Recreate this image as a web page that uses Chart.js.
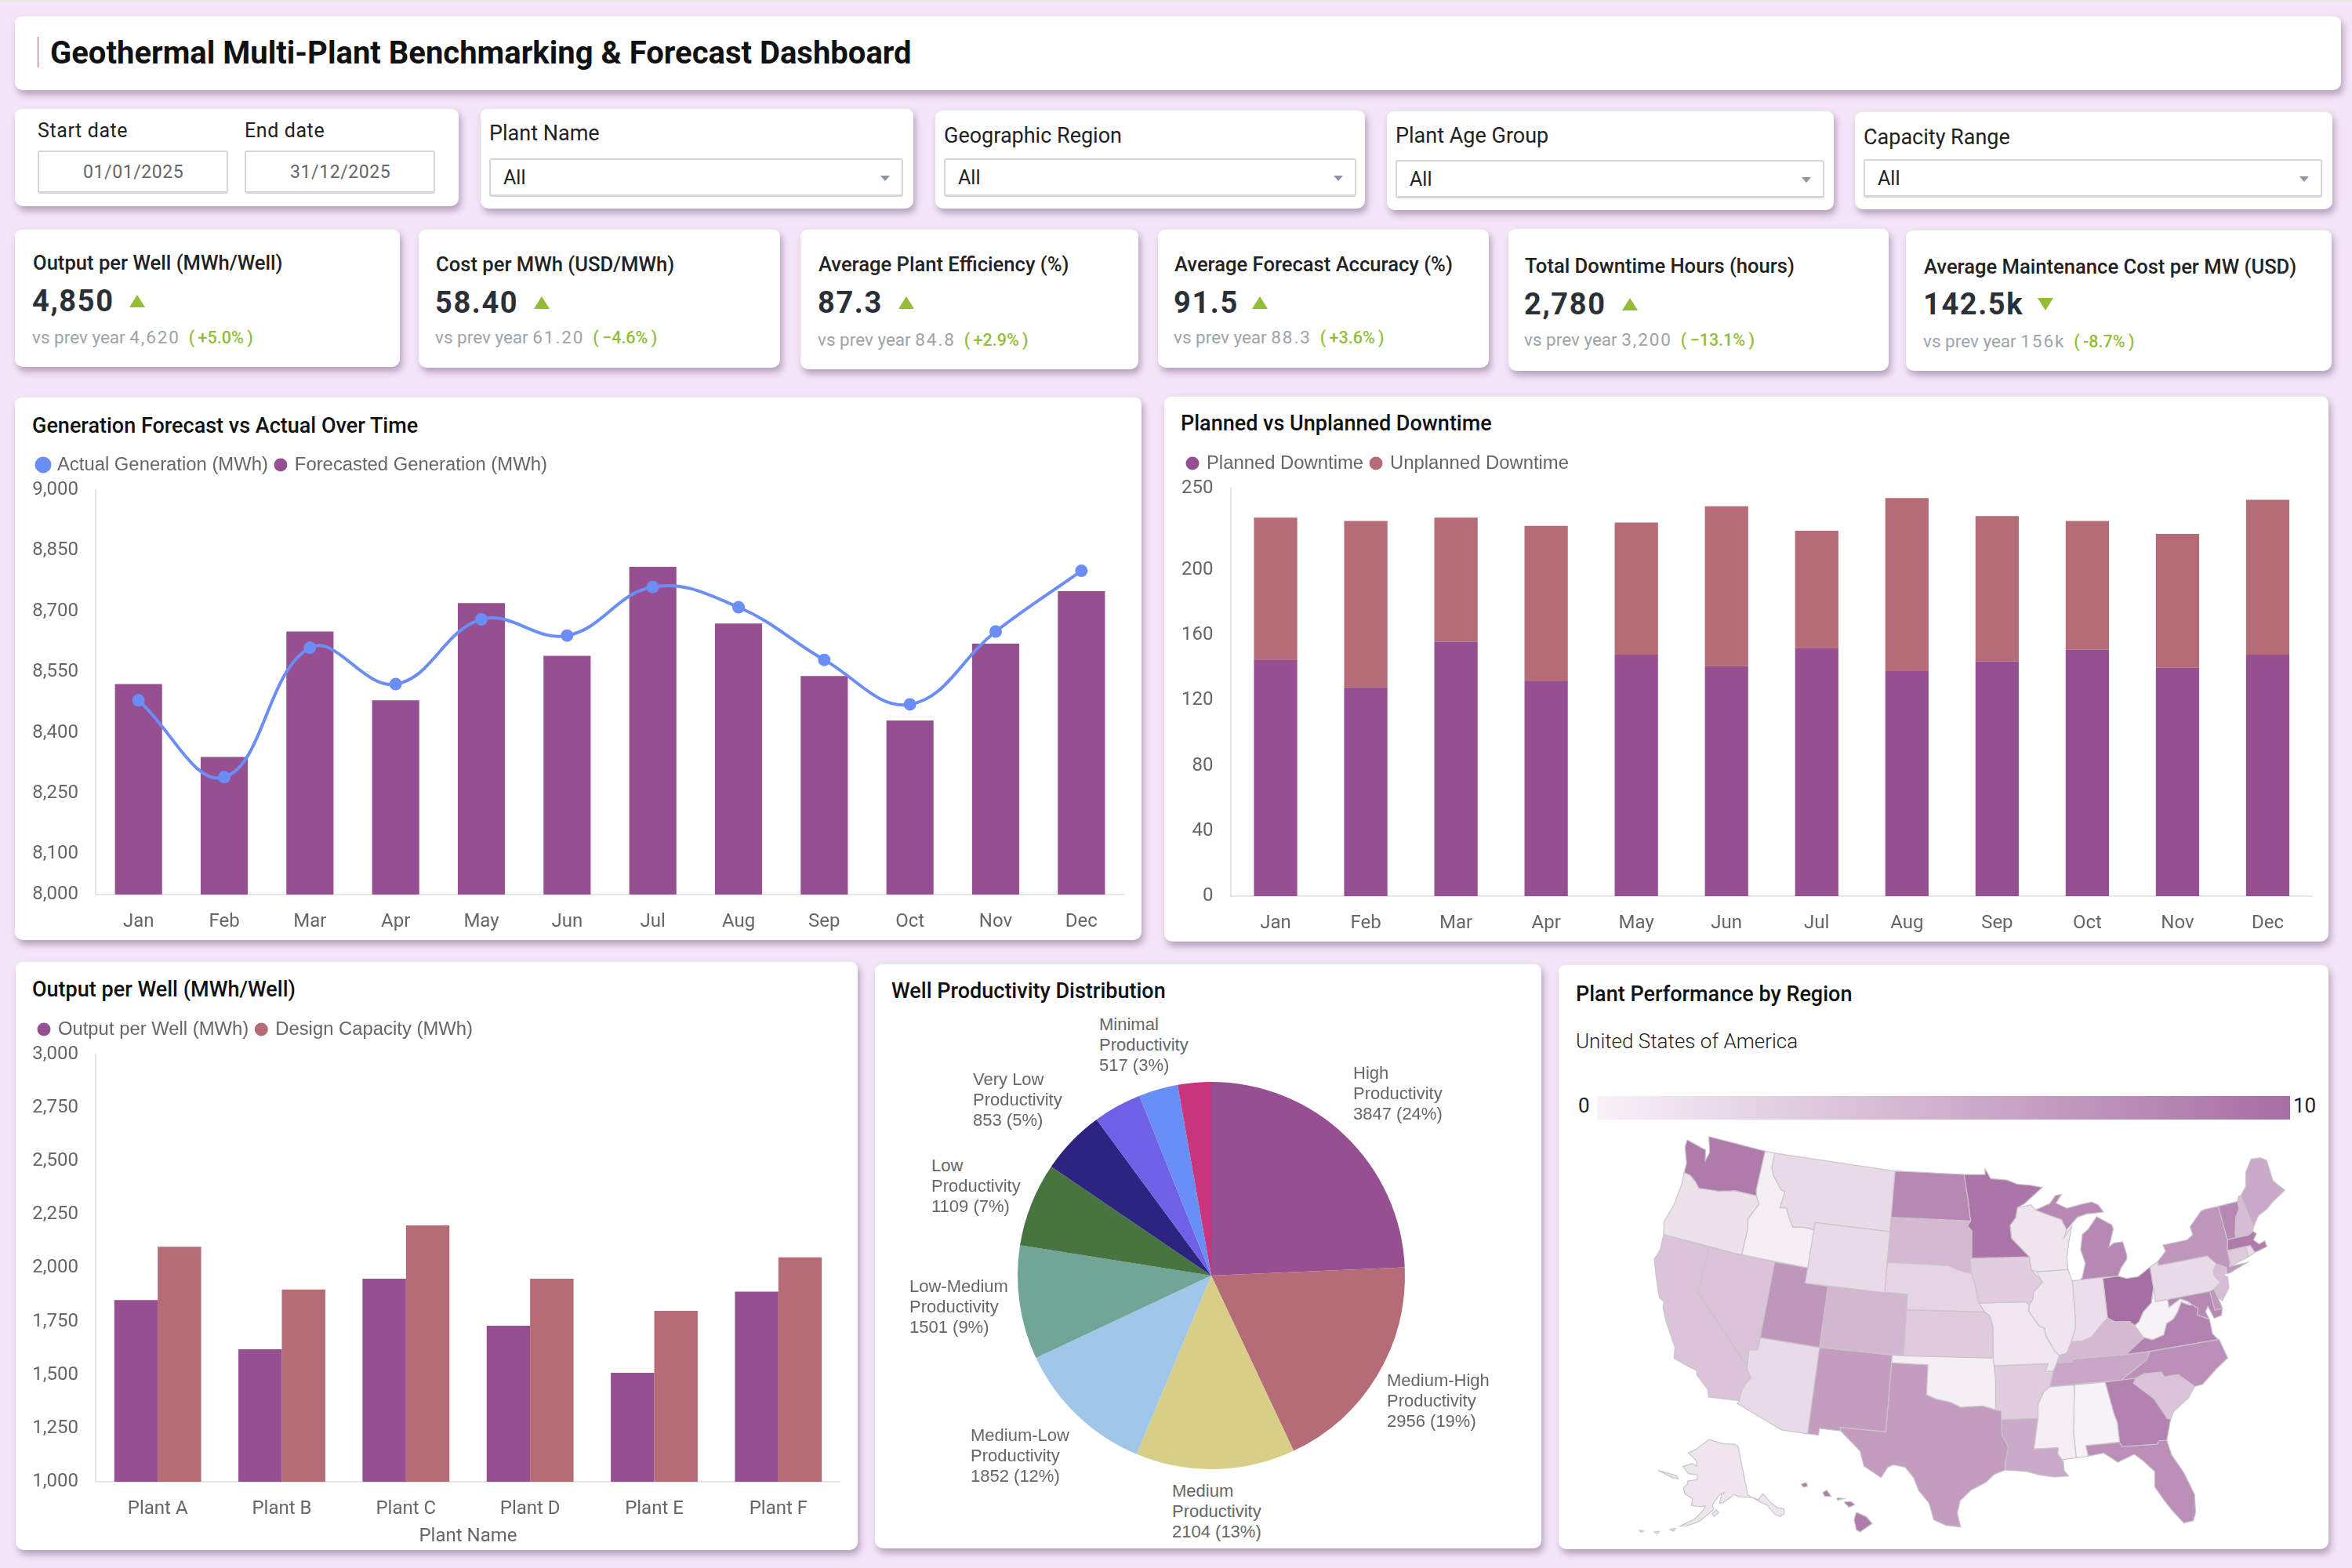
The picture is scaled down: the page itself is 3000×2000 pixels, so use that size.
<!DOCTYPE html>
<html>
<head>
<meta charset="utf-8">
<title>Geothermal Multi-Plant Benchmarking & Forecast Dashboard</title>
<script src="https://cdn.jsdelivr.net/npm/chart.js@4/dist/chart.umd.js"></script>
<style>
    body { margin: 0; width: 3000px; height: 2000px; background: #f5e5f8; overflow: hidden; font-family: Roboto, sans-serif; position: relative; border-top: 2px solid #e8e8e8; box-sizing: border-box; }
    .card { position: absolute; background: #fff; border-radius: 10px; box-sizing: border-box; border-top: 2px solid #e9e9e9; box-shadow: 3px 6px 9px rgba(95, 70, 110, .42); }
    .t { position: absolute; white-space: nowrap; transform: translateY(-50%); line-height: 1.2; }
    .input { position: absolute; box-sizing: border-box; background: #fff; border: 2px solid #d6d6d6; border-bottom-width: 3px; border-radius: 3px; }
    .tri { position: absolute; width: 0; height: 0; border-left: 5px solid transparent; border-right: 5px solid transparent; }
    canvas { position: absolute; }
</style>
</head>
<body>
<script>
/* ---------- data ---------- */
const months = ['Jan','Feb','Mar','Apr','May','Jun','Jul','Aug','Sep','Oct','Nov','Dec'];
const actualGen   = [8480,8290,8610,8520,8680,8640,8760,8710,8580,8470,8650,8800];
const forecastGen = [8520,8340,8650,8480,8720,8590,8810,8670,8540,8430,8620,8750];
const genTicks = [8000,8100,8250,8400,8550,8700,8850,9000];

const plannedDown   = [145,128,156,132,148,141,152,138,144,151,140,148];
const unplannedDown = [87,102,76,95,81,98,72,106,89,79,82,95];
const downTicks = [0,40,80,120,160,200,250];

const plants = ['Plant A','Plant B','Plant C','Plant D','Plant E','Plant F'];
const outputPerWell  = [1850,1620,1950,1730,1510,1890];
const designCapacity = [2100,1900,2200,1950,1800,2050];
const outputTicks = [1000,1250,1500,1750,2000,2250,2500,2750,3000];

const pieNames  = ['High','Medium-High','Medium','Medium-Low','Low-Medium','Low','Very Low','','Minimal',''];
const pieValues = [3847,2956,2104,1852,1501,1109,853,640,517,440];
const piePct    = [24,19,13,12,9,7,5,4,3,3];

const kpiTitles = ['Output per Well (MWh/Well)','Cost per MWh (USD/MWh)','Average Plant Efficiency (%)','Average Forecast Accuracy (%)','Total Downtime Hours (hours)','Average Maintenance Cost per MW (USD)'];
const kpiValues = ['4,850','58.40','87.3','91.5','2,780','142.5k'];
const kpiPrev   = ['4,620','61.20','84.8','88.3','3,200','156k'];
const kpiDelta  = ['+5.0%','−4.6%','+2.9%','+3.6%','−13.1%','-8.7%'];

// map: value per state (0-10) and outlines as lon,lat pairs
const regionValues = {
    WA:9, OR:1.3, CA:3.5, NV:3.5, ID:.3, MT:1.8, WY:1.8, UT:7, CO:4.5, AZ:1.8, NM:6.5, ND:8, SD:4.3, NE:2.3, KS:3, OK:.3, TX:6.5,
    MN:9.5, IA:2.8, MO:.9, AR:2.8, LA:5.5, WI:1, IL:1, IN:1.5, MI:8, OH:10, KY:4.3, TN:5.8, MS:.3, AL:0, GA:8.5, FL:7.5, SC:3.5, NC:7.5,
    VA:8.5, WV:0, PA:1.8, NY:7, VT:8, NH:4, ME:5.5, MA:9, CT:3, RI:1.5, NJ:4, DE:7, MD:8, AK:1, HI:9
};
const regionRings = {
    WA:[[-124.7,48.38,-123.1,48.15,-122.7,48.1,-122.45,47.4,-122.25,48,-122.76,49,-117.03,49,-117.04,46.42,-116.92,46,-118.98,46,-119.3,45.93,-120.5,45.7,-121.2,45.65,-122.3,45.55,-122.8,45.9,-123.4,46.2,-124.05,46.27,-124.1,46.9,-124.7,47.9]],
    OR:[[-124.05,46.27,-123.4,46.2,-122.8,45.9,-122.3,45.55,-121.2,45.65,-120.5,45.7,-119.3,45.93,-118.98,46,-116.92,46,-116.5,45.5,-117.2,44.4,-117.03,43.8,-117.03,42,-124.2,42,-124.5,42.8,-124.1,44,-123.95,45.5]],
    CA:[[-124.2,42,-120,42,-120,39,-114.63,35,-114.6,34.8,-114.14,34.3,-114.5,33.9,-114.7,33.4,-114.72,32.72,-117.12,32.53,-117.3,33,-118.4,33.75,-118.5,34.03,-119.2,34.15,-120.5,34.45,-120.65,35.15,-121.9,36.6,-122.5,37.5,-122.5,37.8,-123,38,-123.8,39.3,-124.35,40.3,-124.1,41]],
    NV:[[-120,42,-114.04,42,-114.04,36.2,-114.75,36.1,-114.63,35,-120,39]],
    ID:[[-117.03,49,-116.05,49,-116.05,48,-115.7,47.5,-114.7,46.7,-114.35,46.65,-114.5,45.55,-113.9,45.6,-113.45,44.95,-113,44.45,-112.3,44.55,-111.5,44.55,-111.05,44.48,-111.05,42,-117.03,42,-117.03,43.8,-117.2,44.4,-116.5,45.5,-116.92,46,-117.04,46.42]],
    MT:[[-116.05,49,-104.05,49,-104.05,45,-111.05,45,-111.05,44.48,-111.5,44.55,-112.3,44.55,-113,44.45,-113.45,44.95,-113.9,45.6,-114.5,45.55,-114.35,46.65,-114.7,46.7,-115.7,47.5,-116.05,48]],
    WY:[[-111.05,45,-104.05,45,-104.05,41,-111.05,41]],
    UT:[[-114.04,42,-111.05,42,-111.05,41,-109.05,41,-109.05,37,-114.04,37]],
    CO:[[-109.05,41,-102.05,41,-102.05,37,-109.05,37]],
    AZ:[[-114.75,36.1,-114.04,36.2,-114.04,37,-109.05,37,-109.05,31.33,-111.07,31.33,-114.81,32.5,-114.72,32.72,-114.7,33.4,-114.5,33.9,-114.14,34.3,-114.6,34.8,-114.63,35]],
    NM:[[-109.05,37,-103,37,-103.04,32,-106.62,32,-106.53,31.78,-108.2,31.78,-108.2,31.33,-109.05,31.33]],
    ND:[[-104.05,49,-97.23,49,-96.85,47.5,-96.56,45.94,-104.05,45.94]],
    SD:[[-104.05,45.94,-96.56,45.94,-96.85,45.6,-96.45,45.3,-96.45,43.5,-96.6,43.5,-96.45,42.49,-97.9,42.8,-98.5,43,-104.05,43]],
    NE:[[-104.05,43,-98.5,43,-97.9,42.8,-96.45,42.49,-96.1,41.7,-95.85,40.7,-95.31,40,-102.05,40,-102.05,41,-104.05,41]],
    KS:[[-102.05,40,-95.31,40,-94.9,39.8,-94.61,39.1,-94.62,37,-102.05,37]],
    OK:[[-103,37,-94.62,37,-94.43,35.4,-94.48,33.64,-95.5,33.9,-96.6,33.85,-97.2,33.8,-98.1,34.13,-99.2,34.3,-100,34.56,-100,36.5,-103,36.5]],
    TX:[[-106.62,32,-103.04,32,-103,36.5,-100,36.5,-100,34.56,-99.2,34.3,-98.1,34.13,-97.2,33.8,-96.6,33.85,-95.5,33.9,-94.48,33.64,-94.04,33.55,-94.04,32,-93.55,31.2,-93.8,30.2,-93.85,29.7,-94.7,29.4,-95.3,28.9,-96.4,28.4,-97.2,27.7,-97.4,26.9,-97.15,25.96,-98.2,26.05,-99.1,26.4,-99.5,27.5,-100.3,28.3,-100.7,29.1,-101.4,29.77,-102.3,29.88,-102.7,29.7,-103.15,28.98,-104.5,29.65,-104.9,30.6,-106.5,31.75]],
    MN:[[-97.23,49,-95.15,49,-95.15,49.38,-94.6,48.72,-93,48.6,-92,48.3,-90.8,48.2,-89.6,48,-91.4,47,-92.1,46.75,-92.3,46.1,-92.85,45.6,-92.75,44.75,-91.2,43.5,-96.45,43.5,-96.45,45.3,-96.85,45.6,-96.56,45.94,-96.85,47.5]],
    IA:[[-96.45,43.5,-91.2,43.5,-91.1,42.7,-90.15,41.8,-91,41.2,-91.1,40.7,-91.42,40.38,-91.73,40.6,-95.77,40.58,-96.1,41.7,-96.45,42.49,-96.6,43.5]],
    MO:[[-95.77,40.58,-91.73,40.6,-91.42,40.38,-91.5,40,-90.7,39,-90.2,38.8,-90.2,38.4,-89.5,37.3,-89.13,36.98,-89.4,36.5,-89.7,36,-90.37,36,-90.1,36.5,-94.62,36.5,-94.62,37,-94.61,39.1,-94.9,39.8,-95.31,40]],
    AR:[[-94.62,36.5,-90.1,36.5,-90.37,36,-89.7,36,-90.1,35,-90.6,34.7,-91.1,33.9,-91.17,33,-94.04,33,-94.04,33.55,-94.48,33.64,-94.43,35.4]],
    LA:[[-94.04,33,-91.17,33,-91.6,31,-89.73,31,-89.8,30.6,-89.5,30.2,-89.4,30.05,-89.4,29.5,-89.1,29.1,-90.2,29.1,-91.3,29.3,-92.2,29.55,-93.85,29.7,-93.8,30.2,-93.55,31.2,-94.04,32]],
    MS:[[-90.1,35,-88.2,35,-88.1,34.9,-88.47,31.9,-88.4,30.25,-89.5,30.2,-89.8,30.6,-89.73,31,-91.6,31,-91.17,33,-91.1,33.9,-90.6,34.7]],
    AL:[[-88.2,35,-85.6,35,-85.18,32.87,-85,32.3,-85,31,-87.6,31,-87.5,30.3,-88.4,30.25,-88.47,31.9,-88.1,34.9]],
    TN:[[-90.1,35,-89.7,36,-89.4,36.5,-88.05,36.5,-88.07,36.68,-83.68,36.6,-81.68,36.59,-82,36.1,-84.3,35]],
    KY:[[-89.4,36.5,-89.13,36.98,-88.5,37.1,-88.05,37.8,-87.1,37.8,-86.3,38,-85.4,38.7,-84.8,39.1,-84.2,38.8,-83,38.7,-82.6,38.4,-82,37.5,-81.97,37.54,-83.68,36.6,-88.07,36.68,-88.05,36.5]],
    IL:[[-90.65,42.5,-87.8,42.5,-87.5,41.7,-87.53,39.3,-87.6,38.7,-88.05,37.8,-88.5,37.1,-89.13,36.98,-89.5,37.3,-90.2,38.4,-90.2,38.8,-90.7,39,-91.5,40,-91.42,40.38,-91.1,40.7,-91,41.2,-90.15,41.8]],
    IN:[[-87.53,41.75,-86.8,41.76,-84.8,41.76,-84.8,39.1,-85.4,38.7,-86.3,38,-87.1,37.8,-88.05,37.8,-87.6,38.7,-87.53,39.3]],
    OH:[[-84.8,41.7,-83.45,41.72,-82.7,41.5,-81.7,41.5,-80.52,42,-80.52,40.64,-80.9,39.7,-81.7,39.2,-82.2,38.6,-82.6,38.4,-83,38.7,-84.2,38.8,-84.8,39.1]],
    MI:[[-86.8,41.76,-84.8,41.76,-83.45,41.72,-83.1,42.2,-82.5,42.7,-82.4,43,-82.6,43.9,-83.4,43.9,-83.9,43.7,-83.3,44.8,-83.4,45.1,-84.7,45.75,-85,45.5,-85.6,45,-86.2,44.7,-86.5,43.7,-86.2,42.8,-86.6,41.9],
        [-90.4,46.55,-89,46.9,-88.4,47.4,-87.8,47.45,-88.4,46.9,-87.4,46.5,-86.2,46.65,-85,46.75,-84.4,46.5,-84,46,-84.7,46,-85.6,46,-86.5,45.85,-87.6,45.1,-88,45.8,-89,46.1]],
    WI:[[-92.1,46.75,-90.8,46.9,-90.4,46.55,-89,46.1,-88,45.8,-87.6,45.1,-87.9,44.6,-87.1,45.3,-87.5,44.3,-87.8,43.3,-87.8,42.5,-90.65,42.5,-91.1,42.7,-91.2,43.5,-92.75,44.75,-92.85,45.6,-92.3,46.1]],
    GA:[[-85.6,35,-83.1,35,-83.35,34.7,-81.9,33.5,-81.1,32.1,-80.85,32.03,-81.4,30.7,-82,30.75,-82.2,30.55,-84.86,30.7,-85,31,-85,32.3,-85.18,32.87]],
    FL:[[-87.6,31,-85,31,-84.86,30.7,-82.2,30.55,-82,30.75,-81.4,30.7,-81.2,29.7,-80.5,28.4,-80,26.9,-80.15,25.7,-80.4,25.2,-81.1,25.15,-81.8,26.1,-82.3,26.9,-82.8,27.8,-82.65,28.8,-83.4,29.6,-84,30.1,-85.3,29.7,-86.3,30.4,-87.5,30.3]],
    SC:[[-83.35,34.7,-83.1,35,-82.4,35.2,-81,35.15,-80.8,34.82,-79.67,34.8,-78.55,33.86,-79.2,33.2,-80.5,32.5,-80.85,32.03,-81.1,32.1,-81.9,33.5]],
    NC:[[-84.3,35,-82,36.1,-81.68,36.59,-75.87,36.55,-75.5,35.25,-76.6,34.7,-77.9,33.9,-78.55,33.86,-79.67,34.8,-80.8,34.82,-81,35.15,-82.4,35.2,-83.1,35]],
    VA:[[-83.68,36.6,-81.97,37.54,-81.3,37.3,-80.3,37.5,-79.9,38.2,-79.3,38.4,-78.87,38.76,-78.35,39.4,-77.8,39.13,-77.5,39.1,-77.05,38.8,-77.25,38.4,-76.3,37.95,-76.3,37,-75.95,36.55,-81.68,36.59]],
    WV:[[-82.6,38.4,-82.2,38.6,-81.7,39.2,-80.9,39.7,-80.52,40.64,-80.52,39.72,-79.48,39.72,-79.48,39.2,-78.4,39.62,-77.72,39.32,-77.8,39.13,-78.35,39.4,-78.87,38.76,-79.3,38.4,-79.9,38.2,-80.3,37.5,-81.3,37.3,-81.97,37.54,-82,37.5]],
    MD:[[-79.48,39.72,-75.79,39.72,-75.7,38.46,-75.05,38.45,-75.25,38.03,-75.9,37.95,-76.2,38.8,-76.5,38.5,-76.3,37.95,-77.25,38.4,-77.05,38.8,-77.5,39.1,-77.72,39.32,-78.4,39.62,-79.48,39.2]],
    DE:[[-75.79,39.72,-75.4,39.8,-75.1,38.8,-75.05,38.45,-75.7,38.46]],
    PA:[[-80.52,42,-79.76,42.27,-79.76,42,-75.35,42,-74.7,41.36,-75.1,41,-75.1,40.6,-74.7,40.15,-75.4,39.8,-75.79,39.72,-80.52,39.72]],
    NJ:[[-74.7,41.36,-73.9,41,-74.25,40.5,-74,40.4,-74.1,39.7,-74.9,38.95,-75.5,39.5,-75.4,39.8,-74.7,40.15,-75.1,40.6,-75.1,41]],
    NY:[[-79.76,42,-79.76,42.27,-78.9,42.85,-79.05,43.27,-76.8,43.3,-76.2,43.55,-76.3,44.1,-75,44.95,-74.7,45,-73.35,45,-73.3,43.6,-73.25,42.75,-73.5,42.05,-73.5,41.3,-73.65,41,-72,41,-73.7,40.6,-74,40.6,-73.9,41,-74.7,41.36,-75.35,42]],
    VT:[[-73.35,45,-71.5,45,-71.55,44.5,-72.05,44,-72.45,43,-72.46,42.73,-73.25,42.75,-73.3,43.6]],
    NH:[[-71.5,45,-71.3,45.3,-71.08,45.3,-70.7,43.1,-70.85,42.87,-71.3,42.7,-72.46,42.73,-72.45,43,-72.05,44,-71.55,44.5]],
    ME:[[-71.08,45.3,-70.4,45.8,-70.25,46.2,-70,46.7,-69.2,47.45,-68.3,47.35,-67.8,47.07,-67.8,45.7,-67.45,45.3,-67,44.85,-68.5,44.3,-69.1,44,-70,43.75,-70.7,43.1]],
    MA:[[-73.5,42.05,-73.25,42.75,-72.46,42.73,-71.3,42.7,-70.85,42.87,-70.6,42.65,-71,42.3,-70.6,41.95,-70.05,42.05,-70,41.65,-70.7,41.55,-71.15,41.5,-71.4,42,-71.8,42.02]],
    CT:[[-73.5,42.05,-71.8,42.02,-71.85,41.32,-73.65,41,-73.5,41.3]],
    RI:[[-71.8,42.02,-71.4,42,-71.15,41.5,-71.85,41.32]],
    AK:[[-141,69.65,-141,60.3,-139.7,59.7,-137.5,58.9,-136.5,59.5,-135.3,59.8,-133.8,58,-131.9,56.5,-130,55.9,-130.5,55,-132,54.8,-133.5,55.5,-135,57.5,-136.5,58.2,-139.5,59.6,-142,60,-144.5,60.2,-146,60.8,-148.5,60,-150.5,59.4,-151.8,59.3,-151,61,-149.5,61.3,-151.5,61,-153.5,59.8,-154.5,59,-154,58.2,-156.5,57,-158.5,56,-160.5,55.4,-163,54.8,-164.8,54.6,-162.5,55.5,-160.5,56.2,-158,57.8,-157,58.8,-159,58.6,-162,58.7,-162,60,-165,60.6,-166,61.7,-164.8,62.5,-164.8,63.1,-161,63.6,-161,64.5,-165,64.5,-168,65.6,-164,66.5,-162,66.1,-162,67,-166.8,68.35,-163,69.3,-156.6,71.35,-152,70.8,-148,70.4,-143,70.1],
        [-154.6,57.4,-153.2,58.1,-152.2,57.6,-153.8,56.9],[-168,53.6,-166.2,54,-166.6,53.4],[-172.6,52.4,-171,52.8,-171.2,52.3],[-177,51.9,-175.5,52,-176.2,51.6],[-178,63.6,-170,63.7,-168.8,63.2,-171,63.1]],
    HI:[[-155.9,20.25,-155.2,19.95,-154.8,19.5,-155.65,18.95,-155.9,19.1,-156.05,19.75],[-156.7,20.95,-156.25,20.95,-156,20.75,-156.4,20.58,-156.7,20.85],[-158.25,21.55,-157.95,21.7,-157.65,21.3,-158.1,21.3],[-159.75,22.1,-159.4,22.2,-159.3,21.95,-159.6,21.9],[-157.25,21.2,-156.75,21.15,-157.2,21.05]]
};

const PURPLE = '#964f91', ROSE = '#b56c76', BLUE = '#6b8df6', AXIS = '#e6e6e6', TICK = '#666';
const pieColors = [PURPLE, ROSE, '#d8cf86', '#a0c6e9', '#70a597', '#47743f', '#2c2480', '#7060e8', '#678ff6', '#c8357a'];

/* ---------- page helpers ---------- */
function card(x, y, x2, y2) {
    const d = document.createElement('div');
    d.className = 'card';
    d.style.cssText = `left:${x}px;top:${y}px;width:${x2 - x}px;height:${y2 - y}px`;
    document.body.appendChild(d);
}
function text(x, cy, str, css = '') {
    const d = document.createElement('div');
    d.className = 't';
    d.style.cssText = `left:${x}px;top:${cy}px;${css}`;
    d.innerHTML = str;
    document.body.appendChild(d);
    return d;
}
function input(x, y, x2, y2) {
    const d = document.createElement('div');
    d.className = 'input';
    d.style.cssText = `left:${x}px;top:${y}px;width:${x2 - x}px;height:${y2 - y}px`;
    document.body.appendChild(d);
}
function tri(x, y, down, color, w = 5, h = 9) {
    const d = document.createElement('div');
    d.className = 'tri';
    const side = down ? 'top' : 'bottom';
    d.style.cssText = `left:${x}px;top:${y}px;border-left-width:${w}px;border-right-width:${w}px;border-${side}:${h}px solid ${color}`;
    document.body.appendChild(d);
}
function canvas(x, y, w, h) {
    const c = document.createElement('canvas');
    c.width = w; c.height = h;
    c.style.cssText = `left:${x}px;top:${y}px;width:${w}px;height:${h}px`;
    document.body.appendChild(c);
    return c.getContext('2d');
}

/* ---------- header + filters ---------- */
card(19, 17, 2986, 113);
document.body.insertAdjacentHTML('beforeend', '<div style="position:absolute;left:48px;top:45px;width:1px;height:39px;background:#a0607e"></div>');
text(64, 66, 'Geothermal Multi-Plant Benchmarking &amp; Forecast Dashboard', 'font-size:40px;font-weight:700;color:#111');

card(19, 135, 585, 261);
text(48, 165, 'Start date', 'font-size:25px;color:#222;letter-spacing:.6px');
text(312, 165, 'End date', 'font-size:25px;color:#222;letter-spacing:.6px');
input(48, 190, 291, 245); input(312, 190, 555, 245);
text(106, 218, '01/01/2025', 'font-size:23px;color:#666;letter-spacing:.6px');
text(370, 218, '31/12/2025', 'font-size:23px;color:#666;letter-spacing:.6px');

const filterNames = ['Plant Name', 'Geographic Region', 'Plant Age Group', 'Capacity Range'];
[[613, 135, 1165, 264, 624, 168, 200, 249, 1152],
 [1193, 137, 1741, 264, 1204, 171, 200, 249, 1730],
 [1769, 138, 2339, 266, 1780, 171, 202, 251, 2327],
 [2366, 139, 2975, 265, 2377, 173, 201, 250, 2962]].forEach((f, i) => {
    card(f[0], f[1], f[2], f[3]);
    text(f[4], f[5], filterNames[i], 'font-size:27px;color:#222');
    input(f[4], f[6], f[8], f[7]);
    text(f[4] + 18, f[6] + 25, 'All', 'font-size:25px;color:#222');
    tri(f[8] - 29, f[6] + 22, true, '#8d93a0', 6, 7);
});

/* ---------- kpi cards ---------- */
[[19, 289, 510, 466, 42, 333, 383, 428, 165],
 [534, 289, 995, 467, 556, 335, 385, 428, 681],
 [1021, 289, 1452, 469, 1044, 335, 385, 431, 1146],
 [1477, 289, 1899, 467, 1498, 335, 385, 428, 1597],
 [1924, 288, 2409, 471, 1945, 337, 387, 431, 2069],
 [2431, 290, 2974, 471, 2454, 338, 387, 433, 2599]].forEach((k, i) => {
    card(k[0], k[1], k[2], k[3]);
    text(k[4], k[5], kpiTitles[i], 'font-size:25.6px;font-weight:500;color:#222');
    text(k[4] - 1, k[6], kpiValues[i], 'font-size:38px;font-weight:700;color:#2b2f36;letter-spacing:1.6px');
    tri(k[8], k[6] - 9, i === 5, '#93bd35', 10, 16);
    text(k[4] - 1, k[7], `vs prev year <span style="letter-spacing:1.9px">${kpiPrev[i]}</span> <span style="color:#93bd35;font-weight:500;font-size:21.5px">&nbsp;(&thinsp;${kpiDelta[i]}&thinsp;)</span>`, 'font-size:22.5px;color:#9da3ab');
});

/* ---------- chart cards ---------- */
card(19, 503, 1456, 1197);
text(41, 541, 'Generation Forecast vs Actual Over Time', 'font-size:27px;font-weight:500;color:#111');
card(1485, 502, 2970, 1199);
text(1506, 538, 'Planned vs Unplanned Downtime', 'font-size:27px;font-weight:500;color:#111');
card(20, 1223, 1094, 1975);
text(41, 1260, 'Output per Well (MWh/Well)', 'font-size:27px;font-weight:500;color:#111');
card(1116, 1226, 1966, 1973);
text(1137, 1262, 'Well Productivity Distribution', 'font-size:27px;font-weight:500;color:#111');
card(1988, 1227, 2970, 1974);
text(2010, 1266, 'Plant Performance by Region', 'font-size:27px;font-weight:500;color:#111');
text(2010, 1327, 'United States of America', 'font-size:26px;font-weight:300;color:#222');

/* ---------- chart defaults ---------- */
Chart.defaults.font.family = 'Roboto';
Chart.defaults.font.size = 24;
Chart.defaults.color = TICK;
Chart.defaults.animation = false;
Chart.defaults.responsive = false;

const legendOpts = {
    position: 'top', align: 'start',
    labels: { usePointStyle: true, pointStyle: 'circle', boxWidth: 12, boxHeight: 12, padding: 10, color: TICK, font: { family: 'Liberation Sans', size: 23.85 } }
};
// extra room between the legend and the plot
const legendGap = (gap) => ({
    id: 'legendGap',
    beforeInit(chart) {
        const fit = chart.legend.fit;
        chart.legend.fit = function () { fit.call(this); this.height += gap; };
    }
});
const fmt = (v) => Number(v).toLocaleString('en-US');
function scales(ticks, yWidth, xHeight, stacked, xTitle) {
    return {
        x: {
            stacked,
            grid: { display: false, drawTicks: false },
            border: { color: AXIS, width: 2 },
            ticks: { padding: 21, color: TICK, maxRotation: 0 },
            title: xTitle ? { display: true, text: xTitle, color: TICK, padding: { top: 0, bottom: 1 } } : undefined,
            afterFit: (a) => { a.height = xHeight; }
        },
        y: {
            stacked,
            min: ticks[0], max: ticks[ticks.length - 1],
            grid: { display: false, drawTicks: false },
            border: { color: AXIS, width: 2 },
            ticks: { padding: 22, color: TICK, callback: fmt },
            afterBuildTicks: (a) => { a.ticks = ticks.map((value) => ({ value })); },
            afterFit: (a) => { a.width = yWidth; }
        }
    };
}

/* ---------- generation ---------- */
new Chart(canvas(39, 569, 1405, 626), {
    type: 'bar',
    data: {
        labels: months,
        datasets: [
            { type: 'line', label: 'Actual Generation (MWh)', data: actualGen, borderColor: BLUE, backgroundColor: BLUE, borderWidth: 4, tension: .4, pointRadius: 6, order: 0 },
            { label: 'Forecasted Generation (MWh)', data: forecastGen, backgroundColor: PURPLE, barPercentage: .55, categoryPercentage: 1, order: 1 }
        ]
    },
    options: { scales: scales(genTicks, 83, 56), plugins: { legend: legendOpts, tooltip: { enabled: false } } },
    plugins: [legendGap(10)]
});

/* ---------- downtime ---------- */
new Chart(canvas(1505, 567, 1445, 630), {
    type: 'bar',
    data: {
        labels: months,
        datasets: [
            { label: 'Planned Downtime', data: plannedDown, backgroundColor: PURPLE, barPercentage: .48, categoryPercentage: 1 },
            { label: 'Unplanned Downtime', data: unplannedDown, backgroundColor: ROSE, barPercentage: .48, categoryPercentage: 1 }
        ]
    },
    options: { scales: scales(downTicks, 64.5, 56, true), plugins: { legend: legendOpts, tooltip: { enabled: false } } },
    plugins: [legendGap(10)]
});

/* ---------- output per well ---------- */
new Chart(canvas(40, 1289, 1032, 684), {
    type: 'bar',
    data: {
        labels: plants,
        datasets: [
            { label: 'Output per Well (MWh)', data: outputPerWell, backgroundColor: PURPLE, barPercentage: 1, categoryPercentage: .7 },
            { label: 'Design Capacity (MWh)', data: designCapacity, backgroundColor: ROSE, barPercentage: 1, categoryPercentage: .7 }
        ]
    },
    options: { scales: scales(outputTicks, 82, 85, false, 'Plant Name'), plugins: { legend: legendOpts, tooltip: { enabled: false } } },
    plugins: [legendGap(10)]
});

/* ---------- pie ---------- */
new Chart(canvas(1285, 1365, 520, 520), {
    type: 'pie',
    data: { labels: pieNames, datasets: [{ data: pieValues, backgroundColor: pieColors, borderWidth: 0 }] },
    options: { radius: 247, plugins: { legend: { display: false }, tooltip: { enabled: false } } }
});
// slice labels, left edge + first line
const pieLabelPos = [[1726, 1367], [1769, 1759], [1495, 1900], [1238, 1829], [1160, 1639], [1188, 1485], [1241, 1375], null, [1402, 1305], null];
pieNames.forEach((name, i) => {
    if (!pieLabelPos[i]) return;
    const [x, y] = pieLabelPos[i];
    const css = 'font-family:\'Liberation Sans\';font-size:22px;color:#666';
    text(x, y, name, css);
    text(x, y + 26, 'Productivity', css);
    text(x, y + 52, `${pieValues[i]} (${piePct[i]}%)`, css);
});

/* ---------- map ---------- */
const MAP_LOW = [247, 242, 247], MAP_HIGH = [167, 110, 163];
const mapColor = (v) => `rgb(${MAP_LOW.map((c, i) => Math.round(c + (MAP_HIGH[i] - c) * v / 10)).join(',')})`;

document.body.insertAdjacentHTML('beforeend', `<div style="position:absolute;left:2037px;top:1396px;width:884px;height:30px;background:linear-gradient(90deg,${mapColor(0)},${mapColor(10)})"></div>`);
text(2013, 1409, '0', 'font-size:26px;color:#222;');
text(2925, 1409, '10', 'font-size:26px;color:#222');

// albers conic, same idea as an albers-usa composite
const rad = Math.PI / 180, K = 1115;
function albers(lon, lat, lon0, lat0, p1, p2) {
    const n = (Math.sin(p1 * rad) + Math.sin(p2 * rad)) / 2;
    const c = Math.cos(p1 * rad) ** 2 + 2 * n * Math.sin(p1 * rad);
    const r = (l) => Math.sqrt(c - 2 * n * Math.sin(l * rad)) / n;
    const th = n * (lon - lon0) * rad;
    return [r(lat) * Math.sin(th), r(lat0) - r(lat) * Math.cos(th)];
}
function project(state, lon, lat) {
    if (state === 'AK') {
        const p = albers(lon, lat, -154, 58.5, 55, 65), o = albers(-156, 58.5, -154, 58.5, 55, 65);
        return [(p[0] - o[0]) * K * .35 - .307 * K, -(p[1] - o[1]) * K * .35 + .201 * K];
    }
    if (state === 'HI') {
        const p = albers(lon, lat, -157, 19.9, 8, 18), o = albers(-160, 19.9, -157, 19.9, 8, 18);
        return [(p[0] - o[0]) * K - .205 * K, -(p[1] - o[1]) * K + .212 * K];
    }
    const p = albers(lon, lat, -96, 38.7, 29.5, 45.5);
    return [p[0] * K, -p[1] * K];
}
const mapSets = [];
Object.keys(regionRings).forEach((st) => {
    regionRings[st].forEach((ring) => {
        const data = [];
        for (let i = 0; i < ring.length; i += 2) {
            const [x, y] = project(st, ring[i], ring[i + 1]);
            data.push({ x, y });
        }
        data.push(data[0]);
        mapSets.push({ label: st, data, showLine: true, fill: 'shape', tension: 0, pointRadius: 0, borderWidth: 1.2, borderColor: '#c9c5c9', backgroundColor: mapColor(regionValues[st]), clip: false });
    });
});
new Chart(canvas(2000, 1430, 960, 530), {
    type: 'scatter',
    data: { datasets: mapSets },
    options: {
        scales: {
            x: { display: false, min: -521, max: 439 },
            y: { display: false, min: -267, max: 263, reverse: true }
        },
        plugins: { legend: { display: false }, tooltip: { enabled: false } }
    }
});
</script>
</body>
</html>
